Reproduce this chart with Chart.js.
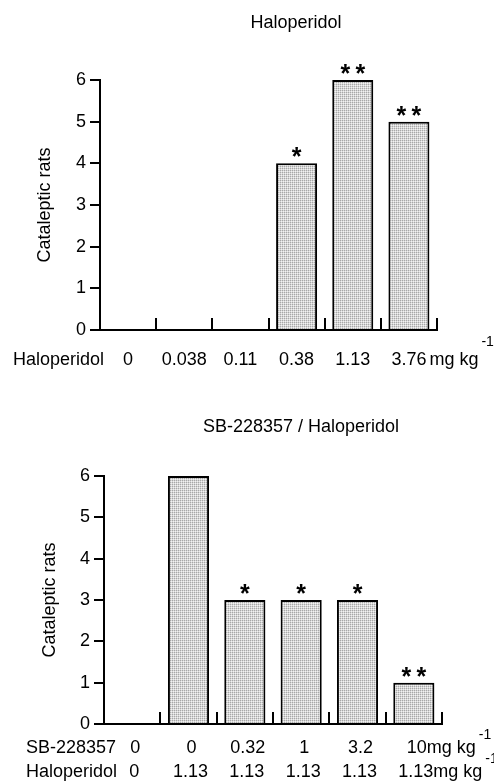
<!DOCTYPE html>
<html><head><meta charset="utf-8">
<script src="https://cdn.jsdelivr.net/npm/chart.js@4/dist/chart.umd.min.js"></script>
<style>
html,body{margin:0;padding:0;background:#fff;}
.box{position:absolute;left:0;width:494px;}
#b1{top:0;height:390px;}
#b2{top:390px;height:391px;}
</style></head><body>
<div class="box" id="b1"><canvas id="c1"></canvas></div>
<div class="box" id="b2"><canvas id="c2"></canvas></div>
<script>
// ---- data ----
const haloDoses = ["0", "0.038", "0.11", "0.38", "1.13", "3.76"];
const haloValues = [0, 0, 0, 4, 6, 5];
const haloSig = ["", "", "", "*", "**", "**"];

const sbDoses = ["0", "0", "0.32", "1", "3.2", "10"];
const sbHaloDoses = ["0", "1.13", "1.13", "1.13", "1.13", "1.13"];
const sbValues = [0, 6, 3, 3, 3, 1];
const sbSig = ["", "", "*", "*", "*", "**"];

const yMin = 0, yMax = 6, yStep = 1;
const unitText = "mg kg";
const unitExp = "-1";
const yTitle = "Cataleptic rats";
const title1 = "Haloperidol";
const title2 = "SB-228357 / Haloperidol";

const FONT = "'Liberation Sans', Arial, Helvetica, sans-serif";

function makePattern() {
  const c = document.createElement('canvas');
  c.width = 2; c.height = 2;
  const x = c.getContext('2d');
  x.fillStyle = '#a8a8a8'; x.fillRect(0, 0, 1, 1);
  x.fillStyle = '#d6d6d6'; x.fillRect(1, 0, 1, 1); x.fillRect(0, 1, 1, 1);
  x.fillStyle = '#f2f2f2'; x.fillRect(1, 1, 1, 1);
  return x.createPattern(c, 'repeat');
}
const barFill = makePattern();

const decor = {
  id: 'decor',
  afterDatasetsDraw(chart, args, opts) {
    const ctx = chart.ctx;
    const xs = chart.scales.x, ys = chart.scales.y;
    const n = chart.data.labels.length;
    const half = (xs.getPixelForValue(1) - xs.getPixelForValue(0)) / 2;
    ctx.save();
    // upward tick marks at category boundaries
    ctx.strokeStyle = '#000'; ctx.lineWidth = 2;
    for (let i = 0; i < n; i++) {
      const x = Math.round(xs.getPixelForValue(i) + half);
      ctx.beginPath();
      ctx.moveTo(x, ys.getPixelForValue(0) + 1);
      ctx.lineTo(x, ys.getPixelForValue(0) - 12);
      ctx.stroke();
    }
    ctx.fillStyle = '#000';
    // title
    ctx.font = '18px ' + FONT;
    ctx.textAlign = 'center'; ctx.textBaseline = 'middle';
    ctx.fillText(opts.title, opts.titleX, opts.titleY);
    // significance stars
    ctx.font = 'bold 25px ' + FONT;
    ctx.textBaseline = 'alphabetic';
    const meta = chart.getDatasetMeta(0);
    opts.sig.forEach((s, i) => {
      if (!s) return;
      const bar = meta.data[i];
      const k = s.length;
      for (let j = 0; j < k; j++) {
        const cx = bar.x + (j - (k - 1) / 2) * 15;
        ctx.fillText('*', cx, bar.y + opts.starDy);
      }
    });
    // x label rows
    opts.rows.forEach(row => {
      ctx.font = '18px ' + FONT;
      ctx.textBaseline = 'middle';
      ctx.textAlign = 'left';
      ctx.fillText(row.name, row.nameX, row.y);
      row.labels.forEach((lab, i) => {
        const cx = xs.getPixelForValue(i) + row.dx;
        ctx.font = '18px ' + FONT;
        ctx.textAlign = 'center';
        ctx.fillText(lab, cx, row.y);
        if (i === row.labels.length - 1) {
          const w = ctx.measureText(lab).width;
          const sx = cx + w / 2 + row.gap;
          ctx.textAlign = 'left';
          ctx.fillText(unitText, sx, row.y);
          const uw = ctx.measureText(unitText).width;
          ctx.font = '14px ' + FONT;
          ctx.fillText(unitExp, sx + uw + 3, row.y + row.supDy);
        }
      });
    });
    ctx.restore();
  }
};

function build(id, labels, values, cfg) {
  return new Chart(document.getElementById(id), {
    type: 'bar',
    data: {
      labels: labels,
      datasets: [{
        data: values,
        backgroundColor: barFill,
        borderColor: '#000',
        borderWidth: 2,
        borderSkipped: 'bottom',
        barPercentage: 0.73,
        categoryPercentage: 1
      }]
    },
    options: {
      responsive: true,
      maintainAspectRatio: false,
      animation: false,
      layout: { padding: { top: cfg.top, right: cfg.right, left: 0, bottom: 0 } },
      plugins: {
        legend: { display: false },
        tooltip: { enabled: false },
        title: { display: false },
        decor: cfg.decor
      },
      scales: {
        x: {
          type: 'category',
          offset: true,
          ticks: { display: false },
          grid: { display: false },
          border: { display: true, color: '#000', width: 2 },
          afterFit(s) { s.height = cfg.xH; }
        },
        y: {
          min: yMin, max: yMax,
          ticks: { stepSize: yStep, color: '#000', padding: 4, font: { family: FONT, size: 18 } },
          grid: { display: true, drawOnChartArea: false, drawTicks: true, tickLength: 10, color: '#000', lineWidth: 2 },
          border: { display: true, color: '#000', width: 2 },
          title: { display: true, text: yTitle, color: '#000', font: { family: FONT, size: 18 }, padding: { top: cfg.yTitlePad, bottom: 0 } },
          afterFit(s) { s.width = cfg.yW; }
        }
      }
    },
    plugins: [decor]
  });
}

build('c1', haloDoses, haloValues, {
  top: 80, right: 57, xH: 60, yW: 100, yTitlePad: 34,
  decor: {
    title: title1, titleX: 296, titleY: 23, sig: haloSig, starDy: 2,
    rows: [{ name: 'Haloperidol', nameX: 13, y: 360, labels: haloDoses, dx: 0, gap: 3, supDy: -18 }]
  }
});

build('c2', sbDoses, sbValues, {
  top: 86, right: 52, xH: 57, yW: 104, yTitlePad: 39,
  decor: {
    title: title2, titleX: 301, titleY: 37, sig: sbSig, starDy: 2,
    rows: [
      { name: 'SB-228357', nameX: 26, y: 358, labels: sbDoses, dx: 3, gap: 0, supDy: -13 },
      { name: 'Haloperidol', nameX: 26, y: 382, labels: sbHaloDoses, dx: 2, gap: 0, supDy: -13 }
    ]
  }
});
</script>
</body></html>
